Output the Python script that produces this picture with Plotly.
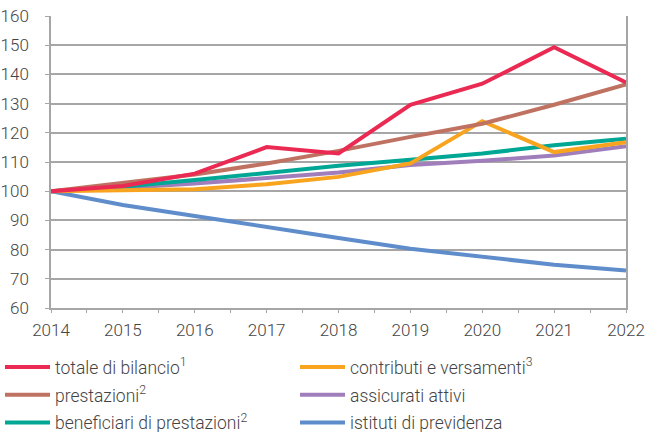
import plotly.graph_objects as go

years = [2014, 2015, 2016, 2017, 2018, 2019, 2020, 2021, 2022]

totale_di_bilancio = [100, 101.8, 106.0, 115.1, 112.9, 129.6, 136.8, 149.3, 137.2]
prestazioni = [100, 102.8, 105.7, 109.5, 113.8, 118.6, 123.1, 129.6, 136.6]
beneficiari = [100, 101.5, 103.8, 106.4, 108.7, 110.8, 112.9, 115.7, 118.0]
contributi = [100, 100.3, 100.7, 102.4, 104.9, 109.5, 124.0, 113.4, 116.8]
assicurati = [100, 101.1, 102.6, 104.6, 106.4, 109.0, 110.4, 112.2, 115.4]
istituti = [100, 95.3, 91.5, 87.9, 84.0, 80.3, 77.5, 74.8, 72.8]

names = {
    "totale": "totale di bilancio<sup>1</sup>",
    "prestazioni": "prestazioni<sup>2</sup>",
    "beneficiari": "beneficiari di prestazioni<sup>2</sup>",
    "contributi": "contributi e versamenti<sup>3</sup>",
    "assicurati": "assicurati attivi",
    "istituti": "istituti di previdenza",
}
colors = {
    "totale": "#EA2A52",
    "prestazioni": "#C07262",
    "beneficiari": "#00A795",
    "contributi": "#F8A41E",
    "assicurati": "#A07EBC",
    "istituti": "#5F8DCB",
}
series = {
    "totale": totale_di_bilancio,
    "prestazioni": prestazioni,
    "beneficiari": beneficiari,
    "contributi": contributi,
    "assicurati": assicurati,
    "istituti": istituti,
}
# two legend columns
legend_of = {"totale": ("legend", 1), "prestazioni": ("legend", 2), "beneficiari": ("legend", 3),
             "contributi": ("legend2", 1), "assicurati": ("legend2", 2), "istituti": ("legend2", 3)}
draw_order = ["istituti", "assicurati", "beneficiari", "contributi", "prestazioni", "totale"]

fig = go.Figure()
for key in draw_order:
    lg, rank = legend_of[key]
    fig.add_trace(go.Scatter(
        x=years, y=series[key], mode="lines", name=names[key],
        line=dict(color=colors[key], width=4),
        legend=lg, legendrank=rank, legendgroup=key,
    ))

font = dict(family="Roboto", size=17, color="#444444", weight=300)
legend_font = dict(family="Roboto", size=17.5, color="#444444", weight=300)
grid = "#A6A6A6"

legend_common = dict(
    orientation="v", xref="paper", yref="container",
    xanchor="left", yanchor="top",
    font=legend_font, itemwidth=45, tracegroupgap=2,
    traceorder="grouped",
    bgcolor="rgba(0,0,0,0)",
)

fig.update_layout(
    width=646, height=432,
    margin=dict(l=51, r=20, t=16, b=124, autoexpand=False),
    paper_bgcolor="white", plot_bgcolor="white",
    font=font,
    showlegend=True,
    legend=dict(legend_common, x=-51 / 575, y=0.192),
    legend2=dict(legend_common, x=(295 - 51) / 575, y=0.192),
    xaxis=dict(
        range=[2014, 2022], tickmode="array", tickvals=years,
        ticktext=[str(y) for y in years],
        showgrid=False, zeroline=False,
        showline=True, linecolor=grid, linewidth=1.5,
        ticks="outside", ticklen=3, tickcolor=grid, tickwidth=1,
        minor=dict(ticks="outside", dtick=0.5, tick0=2014, ticklen=3, tickcolor=grid, showgrid=False),
        ticklabelstandoff=3,
    ),
    yaxis=dict(
        range=[60, 160], dtick=10, tick0=60,
        showgrid=True, gridcolor=grid, gridwidth=1.5,
        zeroline=False,
        showline=True, linecolor=grid, linewidth=1.5, mirror=True,
        ticks="outside", ticklen=4, tickcolor=grid, tickwidth=1,
        ticklabelstandoff=13,
    ),
)

fig.write_html("out.html", config={"displayModeBar": False},
               post_script="document.body.style.margin='0px';")
